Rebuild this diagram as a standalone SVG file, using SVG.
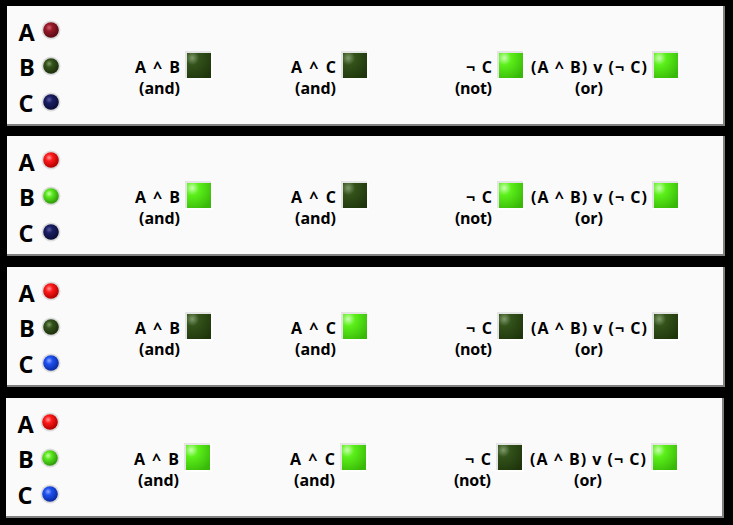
<svg xmlns="http://www.w3.org/2000/svg" width="733" height="525" viewBox="0 0 733 525">
<style>
.big{font-family:"Open Sans","Liberation Sans",sans-serif;font-weight:bold;font-size:23.5px;fill:#000}
.lbl{font-family:"Open Sans","Liberation Sans",sans-serif;font-weight:bold;font-size:16px;fill:#000}
.panel{fill:#fafafa}
.shade{fill:#808080}
.halo{fill:#dcdcdc}
.frame{fill:#e4e4e4}
.frameLo{fill:#ffffff}
</style>
<defs>
<radialGradient id="rOn" cx="0.38" cy="0.35" r="0.65"><stop offset="0" stop-color="#ff9a9a"/><stop offset="0.35" stop-color="#ff1a1a"/><stop offset="1" stop-color="#b00000"/></radialGradient>
<radialGradient id="rOff" cx="0.38" cy="0.35" r="0.65"><stop offset="0" stop-color="#d06070"/><stop offset="0.35" stop-color="#961a28"/><stop offset="1" stop-color="#5a0a14"/></radialGradient>
<radialGradient id="gOn" cx="0.38" cy="0.35" r="0.65"><stop offset="0" stop-color="#c8ffa8"/><stop offset="0.35" stop-color="#5ae81e"/><stop offset="1" stop-color="#2f9a0c"/></radialGradient>
<radialGradient id="gOff" cx="0.38" cy="0.35" r="0.65"><stop offset="0" stop-color="#7a9a60"/><stop offset="0.35" stop-color="#34521c"/><stop offset="1" stop-color="#1c300c"/></radialGradient>
<radialGradient id="bOn" cx="0.38" cy="0.35" r="0.65"><stop offset="0" stop-color="#90a8ff"/><stop offset="0.35" stop-color="#1e50f0"/><stop offset="1" stop-color="#0a2aa0"/></radialGradient>
<radialGradient id="bOff" cx="0.38" cy="0.35" r="0.65"><stop offset="0" stop-color="#5a5aa0"/><stop offset="0.35" stop-color="#1a1e62"/><stop offset="1" stop-color="#0c0c38"/></radialGradient>
<radialGradient id="sOn" cx="0.22" cy="0.2" r="0.95"><stop offset="0" stop-color="#c8ffb0"/><stop offset="0.3" stop-color="#5cf01a"/><stop offset="1" stop-color="#38b808"/></radialGradient>
<radialGradient id="sOff" cx="0.22" cy="0.2" r="0.95"><stop offset="0" stop-color="#7e9a6a"/><stop offset="0.3" stop-color="#33521a"/><stop offset="1" stop-color="#1f360c"/></radialGradient>
</defs>
<rect width="733" height="525" fill="#000"/>

<g id="panel1" transform="translate(0,0)">
  <rect class="shade" x="7" y="6" width="718" height="120"/>
  <rect class="panel" x="7" y="6" width="716" height="118"/>
  <g id="p1-inputA"><text class="big" x="18.5" y="41">A</text><circle class="halo" cx="51" cy="30" r="9.5"/><circle cx="51" cy="30" r="7.8" fill="url(#rOff)"/></g>
  <g id="p1-inputB"><text class="big" x="19" y="76">B</text><circle class="halo" cx="51" cy="66" r="9.5"/><circle cx="51" cy="66" r="7.8" fill="url(#gOff)"/></g>
  <g id="p1-inputC"><text class="big" x="18.5" y="112">C</text><circle class="halo" cx="51" cy="102" r="9.5"/><circle cx="51" cy="102" r="7.8" fill="url(#bOff)"/></g>
  <g id="p1-and1"><text class="lbl" x="135" y="73" textLength="45">A ^ B</text><text class="lbl" x="139" y="94" textLength="41">(and)</text><rect class="frameLo" x="185" y="51" width="28" height="29"/><rect class="frame" x="185" y="51" width="26" height="27"/><rect x="187" y="53" width="24" height="25" fill="url(#sOff)"/></g>
  <g id="p1-and2"><text class="lbl" x="291" y="73" textLength="45">A ^ C</text><text class="lbl" x="295" y="94" textLength="41">(and)</text><rect class="frameLo" x="341" y="51" width="28" height="29"/><rect class="frame" x="341" y="51" width="26" height="27"/><rect x="343" y="53" width="24" height="25" fill="url(#sOff)"/></g>
  <g id="p1-not"><text class="lbl" x="466" y="73" textLength="26">¬ C</text><text class="lbl" x="455" y="94" textLength="37">(not)</text><rect class="frameLo" x="497" y="51" width="28" height="29"/><rect class="frame" x="497" y="51" width="26" height="27"/><rect x="499" y="53" width="24" height="25" fill="url(#sOn)"/></g>
  <g id="p1-or"><text class="lbl" x="531" y="73" textLength="116">(A ^ B) v (¬ C)</text><text class="lbl" x="575" y="94" textLength="28">(or)</text><rect class="frameLo" x="652" y="51" width="28" height="29"/><rect class="frame" x="652" y="51" width="26" height="27"/><rect x="654" y="53" width="24" height="25" fill="url(#sOn)"/></g>
</g>

<g id="panel2" transform="translate(0,130)">
  <rect class="shade" x="7" y="6" width="718" height="120"/>
  <rect class="panel" x="7" y="6" width="716" height="118"/>
  <g id="p2-inputA"><text class="big" x="18.5" y="41">A</text><circle class="halo" cx="51" cy="30" r="9.5"/><circle cx="51" cy="30" r="7.8" fill="url(#rOn)"/></g>
  <g id="p2-inputB"><text class="big" x="19" y="76">B</text><circle class="halo" cx="51" cy="66" r="9.5"/><circle cx="51" cy="66" r="7.8" fill="url(#gOn)"/></g>
  <g id="p2-inputC"><text class="big" x="18.5" y="112">C</text><circle class="halo" cx="51" cy="102" r="9.5"/><circle cx="51" cy="102" r="7.8" fill="url(#bOff)"/></g>
  <g id="p2-and1"><text class="lbl" x="135" y="73" textLength="45">A ^ B</text><text class="lbl" x="139" y="94" textLength="41">(and)</text><rect class="frameLo" x="185" y="51" width="28" height="29"/><rect class="frame" x="185" y="51" width="26" height="27"/><rect x="187" y="53" width="24" height="25" fill="url(#sOn)"/></g>
  <g id="p2-and2"><text class="lbl" x="291" y="73" textLength="45">A ^ C</text><text class="lbl" x="295" y="94" textLength="41">(and)</text><rect class="frameLo" x="341" y="51" width="28" height="29"/><rect class="frame" x="341" y="51" width="26" height="27"/><rect x="343" y="53" width="24" height="25" fill="url(#sOff)"/></g>
  <g id="p2-not"><text class="lbl" x="466" y="73" textLength="26">¬ C</text><text class="lbl" x="455" y="94" textLength="37">(not)</text><rect class="frameLo" x="497" y="51" width="28" height="29"/><rect class="frame" x="497" y="51" width="26" height="27"/><rect x="499" y="53" width="24" height="25" fill="url(#sOn)"/></g>
  <g id="p2-or"><text class="lbl" x="531" y="73" textLength="116">(A ^ B) v (¬ C)</text><text class="lbl" x="575" y="94" textLength="28">(or)</text><rect class="frameLo" x="652" y="51" width="28" height="29"/><rect class="frame" x="652" y="51" width="26" height="27"/><rect x="654" y="53" width="24" height="25" fill="url(#sOn)"/></g>
</g>

<g id="panel3" transform="translate(0,261)">
  <rect class="shade" x="7" y="6" width="718" height="120"/>
  <rect class="panel" x="7" y="6" width="716" height="118"/>
  <g id="p3-inputA"><text class="big" x="18.5" y="41">A</text><circle class="halo" cx="51" cy="30" r="9.5"/><circle cx="51" cy="30" r="7.8" fill="url(#rOn)"/></g>
  <g id="p3-inputB"><text class="big" x="19" y="76">B</text><circle class="halo" cx="51" cy="66" r="9.5"/><circle cx="51" cy="66" r="7.8" fill="url(#gOff)"/></g>
  <g id="p3-inputC"><text class="big" x="18.5" y="112">C</text><circle class="halo" cx="51" cy="102" r="9.5"/><circle cx="51" cy="102" r="7.8" fill="url(#bOn)"/></g>
  <g id="p3-and1"><text class="lbl" x="135" y="73" textLength="45">A ^ B</text><text class="lbl" x="139" y="94" textLength="41">(and)</text><rect class="frameLo" x="185" y="51" width="28" height="29"/><rect class="frame" x="185" y="51" width="26" height="27"/><rect x="187" y="53" width="24" height="25" fill="url(#sOff)"/></g>
  <g id="p3-and2"><text class="lbl" x="291" y="73" textLength="45">A ^ C</text><text class="lbl" x="295" y="94" textLength="41">(and)</text><rect class="frameLo" x="341" y="51" width="28" height="29"/><rect class="frame" x="341" y="51" width="26" height="27"/><rect x="343" y="53" width="24" height="25" fill="url(#sOn)"/></g>
  <g id="p3-not"><text class="lbl" x="466" y="73" textLength="26">¬ C</text><text class="lbl" x="455" y="94" textLength="37">(not)</text><rect class="frameLo" x="497" y="51" width="28" height="29"/><rect class="frame" x="497" y="51" width="26" height="27"/><rect x="499" y="53" width="24" height="25" fill="url(#sOff)"/></g>
  <g id="p3-or"><text class="lbl" x="531" y="73" textLength="116">(A ^ B) v (¬ C)</text><text class="lbl" x="575" y="94" textLength="28">(or)</text><rect class="frameLo" x="652" y="51" width="28" height="29"/><rect class="frame" x="652" y="51" width="26" height="27"/><rect x="654" y="53" width="24" height="25" fill="url(#sOff)"/></g>
</g>

<g id="panel4" transform="translate(-1,392)">
  <rect class="shade" x="7" y="6" width="718" height="120"/>
  <rect class="panel" x="7" y="6" width="716" height="118"/>
  <g id="p4-inputA"><text class="big" x="18.5" y="41">A</text><circle class="halo" cx="51" cy="30" r="9.5"/><circle cx="51" cy="30" r="7.8" fill="url(#rOn)"/></g>
  <g id="p4-inputB"><text class="big" x="19" y="76">B</text><circle class="halo" cx="51" cy="66" r="9.5"/><circle cx="51" cy="66" r="7.8" fill="url(#gOn)"/></g>
  <g id="p4-inputC"><text class="big" x="18.5" y="112">C</text><circle class="halo" cx="51" cy="102" r="9.5"/><circle cx="51" cy="102" r="7.8" fill="url(#bOn)"/></g>
  <g id="p4-and1"><text class="lbl" x="135" y="73" textLength="45">A ^ B</text><text class="lbl" x="139" y="94" textLength="41">(and)</text><rect class="frameLo" x="185" y="51" width="28" height="29"/><rect class="frame" x="185" y="51" width="26" height="27"/><rect x="187" y="53" width="24" height="25" fill="url(#sOn)"/></g>
  <g id="p4-and2"><text class="lbl" x="291" y="73" textLength="45">A ^ C</text><text class="lbl" x="295" y="94" textLength="41">(and)</text><rect class="frameLo" x="341" y="51" width="28" height="29"/><rect class="frame" x="341" y="51" width="26" height="27"/><rect x="343" y="53" width="24" height="25" fill="url(#sOn)"/></g>
  <g id="p4-not"><text class="lbl" x="466" y="73" textLength="26">¬ C</text><text class="lbl" x="455" y="94" textLength="37">(not)</text><rect class="frameLo" x="497" y="51" width="28" height="29"/><rect class="frame" x="497" y="51" width="26" height="27"/><rect x="499" y="53" width="24" height="25" fill="url(#sOff)"/></g>
  <g id="p4-or"><text class="lbl" x="531" y="73" textLength="116">(A ^ B) v (¬ C)</text><text class="lbl" x="575" y="94" textLength="28">(or)</text><rect class="frameLo" x="652" y="51" width="28" height="29"/><rect class="frame" x="652" y="51" width="26" height="27"/><rect x="654" y="53" width="24" height="25" fill="url(#sOn)"/></g>
</g>
</svg>
